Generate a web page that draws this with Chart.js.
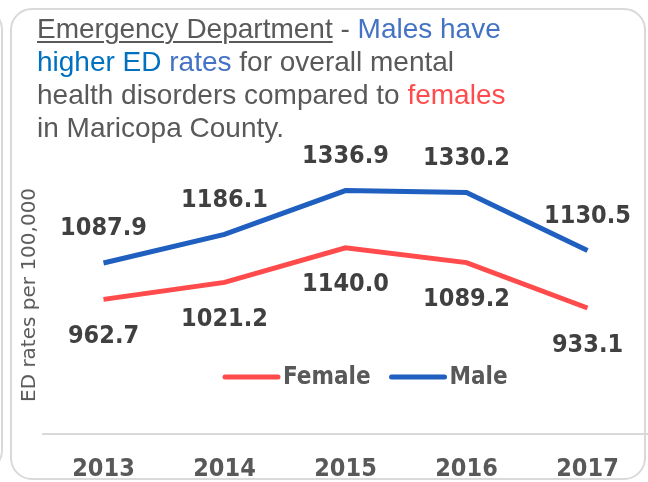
<!DOCTYPE html>
<html>
<head>
<meta charset="utf-8">
<script src="https://cdn.jsdelivr.net/npm/chart.js@4"></script>
<style>
  html, body { margin: 0; padding: 0; background: #fff; }
  #wrap { position: relative; width: 648px; height: 482px; overflow: hidden; }
  .card { position: absolute; border: 2px solid #d9d9d9; border-radius: 22px; box-sizing: border-box; }
  #card { left: 10px; top: 8px; width: 636px; height: 472px; }
  #prev { left: -40px; top: 8px; width: 43px; height: 464px; }
  #title {
    position: absolute; left: 37px; top: 12px;
    font-family: "Liberation Sans", Arial, sans-serif; font-size: 28px; line-height: 33px;
    color: #595959; white-space: nowrap;
  }
  #title u { text-decoration-thickness: 2px; text-underline-offset: 3px; }
  .b1 { color: #4472C4; }
  .b2 { color: #0070C0; }
  .r1 { color: #FF4B4B; }
  #ytitle {
    position: absolute; left: 28px; top: 295px;
    transform: translate(-50%, -50%) rotate(-90deg);
    font-family: "DejaVu Sans", sans-serif; font-size: 20px;
    color: #595959; white-space: nowrap;
  }
  canvas { position: absolute; left: 0; top: 0; }
</style>
</head>
<body>
<div id="wrap">
  <div class="card" id="prev"></div>
  <div class="card" id="card"></div>
  <canvas id="chart" width="648" height="482"></canvas>
  <div id="title"><u>Emergency Department</u> - <span class="b1">Males have</span><br><span class="b2">higher ED</span> <span class="b1">rates</span> for overall mental<br>health disorders compared to <span class="r1">females</span><br>in Maricopa County.</div>
  <div id="ytitle">ED rates per 100,000</div>
</div>
<script>
const years = ['2013', '2014', '2015', '2016', '2017'];
const female = [962.7, 1021.2, 1140.0, 1089.2, 933.1];
const male = [1087.9, 1186.1, 1336.9, 1330.2, 1130.5];

const FONT = '"DejaVu Sans Condensed", "DejaVu Sans", sans-serif';

// value labels above (male) or below (female) each point
const valueLabels = {
  id: 'valueLabels',
  afterDatasetsDraw(chart) {
    const ctx = chart.ctx;
    ctx.save();
    ctx.font = 'bold 25px ' + FONT;
    ctx.fillStyle = '#404040';
    ctx.textAlign = 'center';
    ctx.textBaseline = 'middle';
    chart.data.datasets.forEach(function (ds, i) {
      const meta = chart.getDatasetMeta(i);
      const dy = ds.label === 'Male' ? -34 : 37;
      meta.data.forEach(function (pt, j) {
        ctx.fillText(ds.data[j].toFixed(1), pt.x, pt.y + dy);
      });
    });
    ctx.restore();
  }
};

// legend drawn inside the plot, above the axis
const lineLegend = {
  id: 'lineLegend',
  afterDraw(chart) {
    const ctx = chart.ctx;
    ctx.save();
    ctx.font = 'bold 24px ' + FONT;
    ctx.textBaseline = 'middle';
    let x = 223;
    const y = 377;
    chart.data.datasets.forEach(function (ds) {
      ctx.strokeStyle = ds.borderColor;
      ctx.lineWidth = 5;
      ctx.lineCap = 'round';
      ctx.beginPath();
      ctx.moveTo(x + 2, y);
      ctx.lineTo(x + 55, y);
      ctx.stroke();
      x += 60;
      ctx.fillStyle = '#595959';
      ctx.fillText(ds.label, x, y + 1);
      x += ctx.measureText(ds.label).width + 19;
    });
    ctx.restore();
  }
};

new Chart(document.getElementById('chart'), {
  type: 'line',
  data: {
    labels: years,
    datasets: [
      { label: 'Female', data: female, borderColor: '#FF4B4B', backgroundColor: '#FF4B4B' },
      { label: 'Male', data: male, borderColor: '#1F5FBF', backgroundColor: '#1F5FBF' }
    ]
  },
  options: {
    responsive: false,
    animation: false,
    layout: { padding: { left: 43, top: 114, right: 0, bottom: -22 } },
    elements: {
      line: { borderWidth: 5, tension: 0 },
      point: { radius: 0, hoverRadius: 0 }
    },
    plugins: { legend: { display: false }, tooltip: { enabled: false } },
    scales: {
      x: {
        offset: true,
        grid: { display: false, drawTicks: false },
        border: { display: true, color: '#d9d9d9', width: 2 },
        ticks: {
          padding: 20,
          color: '#595959',
          font: { family: FONT, size: 25, weight: 'bold' }
        }
      },
      y: { display: false, min: 500, max: 1600 }
    }
  },
  plugins: [valueLabels, lineLegend]
});
</script>
</body>
</html>
